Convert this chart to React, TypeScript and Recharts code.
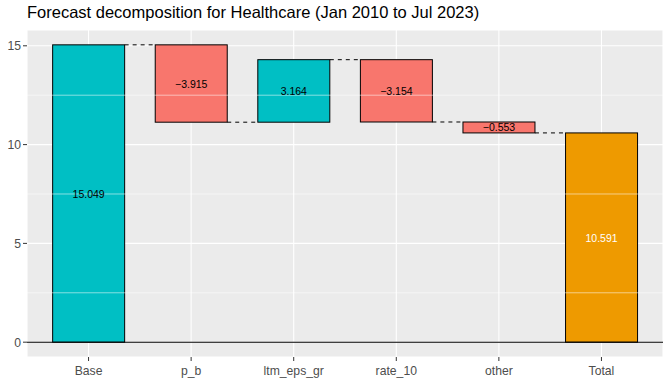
import React from 'react'
import { BarChart, Bar, XAxis, YAxis, CartesianGrid, ReferenceLine, LabelList } from 'recharts'

const categories = ['Base', 'p_b', 'ltm_eps_gr', 'rate_10', 'other', 'Total']
const contributions = [15.049, -3.915, 3.164, -3.154, -0.553, 10.591]
const yTicks = [0, 5, 10, 15]
const minorTicks = [2.5, 7.5, 12.5]

const TEAL = '#00BFC4'
const SALMON = '#F8766D'
const ORANGE = '#EE9A00'
const FONT = '"Liberation Sans", Arial, sans-serif'

// running totals -> [low, high] range bars
let running = 0
const data = categories.map((name, i) => {
  const v = contributions[i]
  const isEdge = i === 0 || i === categories.length - 1
  const start = isEdge ? 0 : running
  const end = isEdge ? v : running + v
  running = end
  return {
    name,
    range: [Math.min(start, end), Math.max(start, end)],
    endAtTop: end >= start,
    color: i === categories.length - 1 ? ORANGE : v >= 0 ? TEAL : SALMON,
    labelColor: i === categories.length - 1 ? '#FFFFFF' : '#000000',
    label: (v < 0 ? '\u2212' : '') + Math.abs(v).toFixed(3),
  }
})

const WaterfallBar = (props: any) => {
  const { x, y, width, height, payload, index } = props
  const gap = (width * 0.3) / 0.7
  const lineY = payload.endAtTop ? y : y + height
  return (
    <g>
      <rect x={x} y={y} width={width} height={height} fill={payload.color} stroke="#000" strokeWidth={1} />
      {index < data.length - 1 && (
        <line x1={x + width} x2={x + width + gap} y1={lineY} y2={lineY} stroke="#000" strokeWidth={1} strokeDasharray="4 4" />
      )}
    </g>
  )
}

const BarLabel = (props: any) => {
  const { x, y, width, height, index } = props
  const d = data[index]
  return (
    <text x={x + width / 2} y={y + height / 2} textAnchor="middle" dominantBaseline="central"
      fontSize={10.5} fontFamily={FONT} fill={d.labelColor}>
      {d.label}
    </text>
  )
}

export default function App() {
  return (
    <div style={{ position: 'absolute', left: 0, top: 0, width: 672, height: 384, background: '#fff' }}>
      <div style={{ position: 'absolute', left: 27, top: 3, fontSize: 16.5, fontFamily: FONT, color: '#000', whiteSpace: 'nowrap' }}>
        Forecast decomposition for Healthcare (Jan 2010 to Jul 2023)
      </div>
      <BarChart width={672} height={384} data={data} margin={{ top: 30, right: 9, bottom: 0, left: 0 }} barCategoryGap="15%">
        <CartesianGrid fill="#EBEBEB" stroke="#FFFFFF" strokeWidth={1.07} />
        {minorTicks.map(t => (
          <ReferenceLine key={t} y={t} stroke="#FFFFFF" strokeWidth={0.53} />
        ))}
        <XAxis dataKey="name" height={27} padding={{ left: 10.26, right: 10.26 }}
          axisLine={false} tickSize={4} tickMargin={5}
          tickLine={{ stroke: '#333333' }}
          tick={{ fill: '#4D4D4D', fontSize: 12.2, fontFamily: FONT }} />
        <YAxis width={27} domain={[-0.75, 15.8]} ticks={yTicks} allowDataOverflow
          axisLine={false} tickSize={4} tickMargin={2}
          tickLine={{ stroke: '#333333' }}
          tick={{ fill: '#4D4D4D', fontSize: 12.2, fontFamily: FONT }} />
        <ReferenceLine y={0} stroke="#000000" strokeWidth={1.07} />
        <Bar dataKey="range" shape={WaterfallBar} isAnimationActive={false}>
          <LabelList dataKey="range" content={BarLabel} />
        </Bar>
      </BarChart>
    </div>
  )
}
